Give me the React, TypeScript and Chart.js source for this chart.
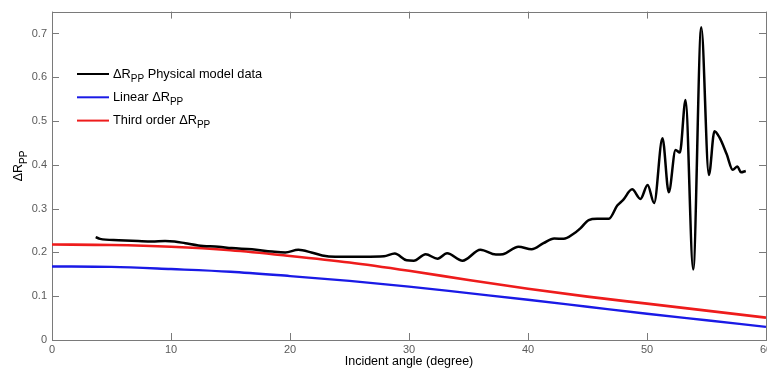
import React, { useEffect, useRef } from 'react';
import { Chart, registerables } from 'chart.js';

Chart.register(...registerables);

// ---- data ----
const xTickValues = [0, 10, 20, 30, 40, 50, 60];
const yTickValues = [0, 0.1, 0.2, 0.3, 0.4, 0.5, 0.6, 0.7];

const smoothAngles = [0, 5, 10, 15, 20, 25, 30, 35, 40, 45, 50, 55, 60];
const linearValues = [0.168, 0.167, 0.162, 0.156, 0.146, 0.135, 0.122, 0.107, 0.092, 0.076, 0.060, 0.045, 0.030];
const thirdOrderValues = [0.218, 0.217, 0.213, 0.205, 0.192, 0.177, 0.158, 0.137, 0.117, 0.099, 0.083, 0.067, 0.051];

const physAngles = [
  3.67, 4.04, 5.6, 7.26, 8.4, 9.5, 10.3, 11.2, 12.3, 14.0, 15.1, 16.8, 18.5, 19.6, 20.7, 21.8, 22.7, 23.8,
  26.2, 27.9, 28.8, 29.8, 30.4, 31.4, 32.4, 33.2, 34.5, 36.0, 37.3, 37.9, 39.2, 40.3, 41.3, 42.2, 43.0,
  43.8, 44.4, 45.1, 45.8, 46.8, 47.5, 48.0, 48.75, 49.45, 50.05, 50.6, 51.3, 51.83, 52.4, 52.76, 53.24,
  53.88, 54.56, 55.2, 55.67, 56.1, 56.7, 57.2, 57.6, 57.9, 58.3,
];
const physValues = [
  0.235, 0.231, 0.228, 0.226, 0.225, 0.226, 0.225, 0.221, 0.216, 0.213, 0.210, 0.207, 0.202, 0.200, 0.206, 0.200, 0.193, 0.190,
  0.190, 0.191, 0.1975, 0.182, 0.181, 0.196, 0.1855, 0.198, 0.181, 0.206, 0.195, 0.196, 0.213, 0.207, 0.221, 0.232, 0.231,
  0.242, 0.255, 0.274, 0.277, 0.277, 0.307, 0.320, 0.344, 0.322, 0.354, 0.313, 0.461, 0.3375, 0.434, 0.428, 0.548,
  0.161, 0.714, 0.377, 0.477, 0.462, 0.424, 0.389, 0.396, 0.383, 0.386,
];

type Part = [string, boolean];
const legendRows: { color: string; parts: Part[] }[] = [
  { color: '#000000', parts: [['ΔR', false], ['PP', true], [' Physical model data', false]] },
  { color: '#1a1ae6', parts: [['Linear ΔR', false], ['PP', true]] },
  { color: '#ee1c1c', parts: [['Third order ΔR', false], ['PP', true]] },
];
const yTitleParts: Part[] = [['ΔR', false], ['PP', true]];
const xTitle = 'Incident angle (degree)';

const FONT = '"Liberation Sans", Arial, sans-serif';
const AXIS_COLOR = '#7a7a7a';
const TICK_TEXT = '#5a5a5a';

function drawParts(ctx: CanvasRenderingContext2D, parts: Part[], x: number, y: number, size: number) {
  let cx = x;
  ctx.textBaseline = 'middle';
  ctx.textAlign = 'left';
  for (const [text, sub] of parts) {
    ctx.font = `${sub ? Math.round(size * 0.78) : size}px ${FONT}`;
    ctx.fillText(text, cx, y + (sub ? size * 0.38 : 0));
    cx += ctx.measureText(text).width;
  }
  return cx - x;
}

function partsWidth(ctx: CanvasRenderingContext2D, parts: Part[], size: number) {
  let w = 0;
  for (const [text, sub] of parts) {
    ctx.font = `${sub ? Math.round(size * 0.78) : size}px ${FONT}`;
    w += ctx.measureText(text).width;
  }
  return w;
}

const framePlugin = {
  id: 'frameTicks',
  beforeDatasetsDraw(chart: any) {
    const { ctx, chartArea } = chart;
    const { left, right, top, bottom } = chartArea;
    const xs = chart.scales.x;
    const ys = chart.scales.y;
    ctx.save();
    ctx.strokeStyle = AXIS_COLOR;
    ctx.lineWidth = 1;
    ctx.strokeRect(Math.round(left) + 0.5, Math.round(top) + 0.5, Math.round(right - left), Math.round(bottom - top));
    const L = 7;
    ctx.beginPath();
    for (const t of xs.ticks) {
      const px = Math.round(xs.getPixelForValue(t.value)) + 0.5;
      ctx.moveTo(px, bottom);
      ctx.lineTo(px, bottom - L);
      ctx.moveTo(px, top);
      ctx.lineTo(px, top + L);
    }
    for (const t of ys.ticks) {
      const py = Math.round(ys.getPixelForValue(t.value)) + 0.5;
      ctx.moveTo(left, py);
      ctx.lineTo(left + L, py);
      ctx.moveTo(right, py);
      ctx.lineTo(right - L, py);
    }
    ctx.stroke();
    ctx.restore();
  },
  afterDraw(chart: any) {
    const { ctx, chartArea } = chart;
    ctx.save();
    // legend
    const lx0 = 77;
    const lx1 = 109;
    const tx = 113;
    const y0 = 74;
    const dy = 23.3;
    legendRows.forEach((row, i) => {
      const y = y0 + i * dy;
      ctx.strokeStyle = row.color;
      ctx.lineWidth = 2;
      ctx.beginPath();
      ctx.moveTo(lx0, y);
      ctx.lineTo(lx1, y);
      ctx.stroke();
      ctx.fillStyle = '#000000';
      drawParts(ctx, row.parts, tx, y, 12.8);
    });
    // y title
    ctx.save();
    ctx.translate(19, 166);
    ctx.rotate(-Math.PI / 2);
    ctx.fillStyle = '#000000';
    const w = partsWidth(ctx, yTitleParts, 12.5);
    drawParts(ctx, yTitleParts, -w / 2, 0, 12.5);
    ctx.restore();
    // x title
    ctx.fillStyle = '#000000';
    ctx.font = `12.5px ${FONT}`;
    ctx.textAlign = 'center';
    ctx.textBaseline = 'middle';
    ctx.fillText(xTitle, (chartArea.left + chartArea.right) / 2, 362);
    ctx.restore();
  },
};

export default function App() {
  const ref = useRef<HTMLCanvasElement | null>(null);
  useEffect(() => {
    document.body.style.margin = '0';
    document.body.style.overflow = 'hidden';
    const canvas = ref.current;
    if (!canvas) return;
    const toPts = (xs: number[], ys: number[]) => xs.map((x, i) => ({ x, y: ys[i] }));
    const chart = new Chart(canvas, {
      type: 'line',
      data: {
        datasets: [
          {
            label: 'Physical model data',
            data: toPts(physAngles, physValues),
            borderColor: '#000000',
            borderWidth: 2.5,
            cubicInterpolationMode: 'monotone',
            pointRadius: 0,
            order: 0,
          },
          {
            label: 'Third order',
            data: toPts(smoothAngles, thirdOrderValues),
            borderColor: '#ee1c1c',
            borderWidth: 2.6,
            cubicInterpolationMode: 'monotone',
            pointRadius: 0,
            order: 1,
          },
          {
            label: 'Linear',
            data: toPts(smoothAngles, linearValues),
            borderColor: '#1a1ae6',
            borderWidth: 2.4,
            cubicInterpolationMode: 'monotone',
            pointRadius: 0,
            order: 2,
          },
        ],
      },
      options: {
        responsive: false,
        animation: false,
        devicePixelRatio: 1,
        parsing: false,
        layout: { padding: { top: 6, right: 24, left: 0, bottom: 0 } },
        plugins: { legend: { display: false }, tooltip: { enabled: false }, title: { display: false } },
        scales: {
          x: {
            type: 'linear',
            min: xTickValues[0],
            max: xTickValues[xTickValues.length - 1],
            afterFit: (s: any) => {
              s.height = 33;
            },
            afterBuildTicks: (s: any) => {
              s.ticks = xTickValues.map((v) => ({ value: v }));
            },
            grid: { display: false, drawTicks: false },
            border: { display: false },
            ticks: {
              padding: 3,
              color: TICK_TEXT,
              font: { family: FONT, size: 11 },
              maxRotation: 0,
              autoSkip: false,
              callback: (v: any) => String(v),
            },
          },
          y: {
            type: 'linear',
            min: 0,
            max: 0.75,
            afterFit: (s: any) => {
              s.width = 52;
            },
            afterBuildTicks: (s: any) => {
              s.ticks = yTickValues.map((v) => ({ value: v }));
            },
            grid: { display: false, drawTicks: false },
            border: { display: false },
            ticks: {
              padding: 5,
              color: TICK_TEXT,
              font: { family: FONT, size: 11 },
              autoSkip: false,
              callback: (v: any) => (Number(v) === 0 ? '0' : Number(v).toFixed(1)),
            },
          },
        },
      },
      plugins: [framePlugin],
    } as any);
    return () => chart.destroy();
  }, []);
  return (
    <div style={{ position: 'fixed', left: 0, top: 0, width: 767, height: 373, overflow: 'hidden', background: '#fff' }}>
      <canvas ref={ref} width={790} height={373} style={{ display: 'block' }} />
    </div>
  );
}
